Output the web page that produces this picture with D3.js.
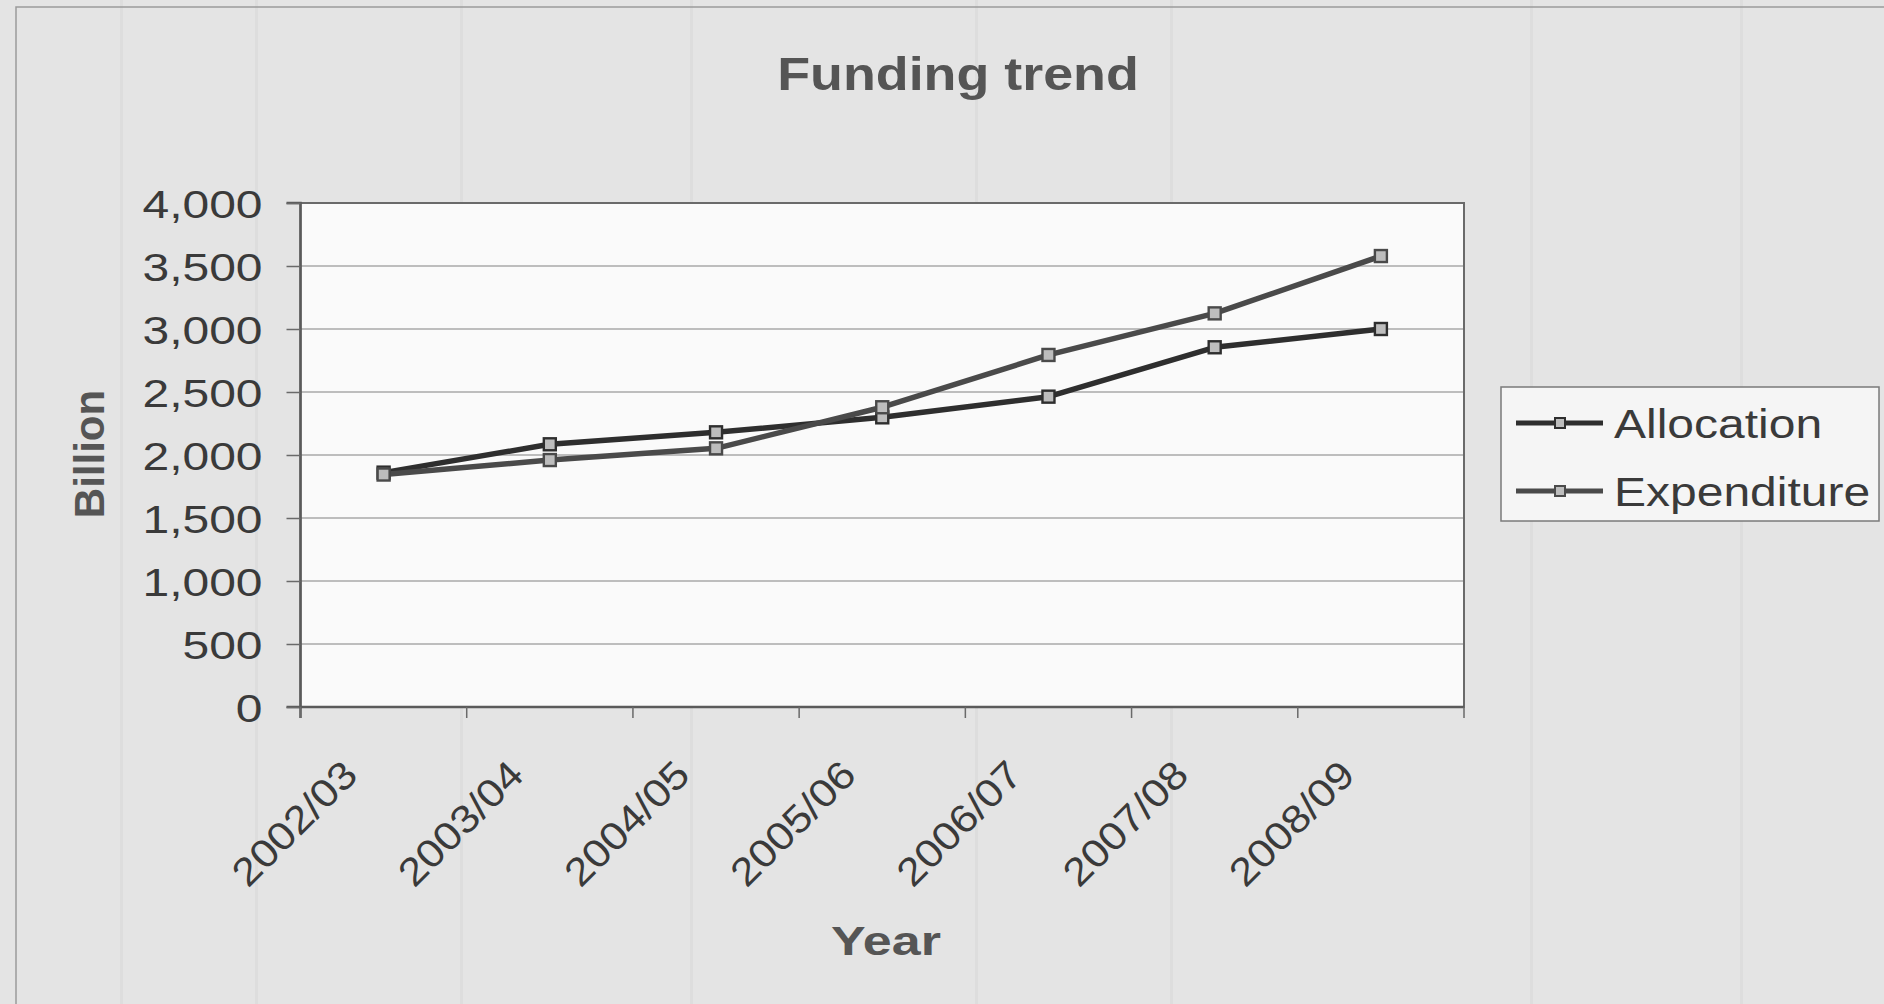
<!DOCTYPE html>
<html>
<head>
<meta charset="utf-8">
<script src="https://cdn.jsdelivr.net/npm/d3@7"></script>
<style>
  html, body { margin: 0; padding: 0; background: #e6e6e6; }
  svg { display: block; }
  text { font-family: "Liberation Sans", Arial, sans-serif; }
</style>
</head>
<body>
<svg id="chart" width="1884" height="1004"></svg>
<script>
// ---- data ----
const categories = ["2002/03", "2003/04", "2004/05", "2005/06", "2006/07", "2007/08", "2008/09"];
const allocation = [1860, 2085, 2180, 2299, 2463, 2855, 3000];
const expenditure = [1845, 1960, 2053, 2379, 2794, 3124, 3579];
const yTicks = [0, 500, 1000, 1500, 2000, 2500, 3000, 3500, 4000];
const seriesNames = ["Allocation", "Expenditure"];
const titleText = "Funding trend";
const xTitle = "Year";
const yTitle = "Billion";

// ---- layout ----
const W = 1884, H = 1004;
const plot = { left: 300.5, right: 1464, top: 203, bottom: 707 };
const colors = ["#2e2e2e", "#4a4a4a"];

const svg = d3.select("#chart");

function stretch(sel, k) {
  sel.each(function () {
    const w = this.getComputedTextLength();
    d3.select(this).attr("textLength", w * k).attr("lengthAdjust", "spacingAndGlyphs");
  });
}

// background
svg.append("rect").attr("width", W).attr("height", H).attr("fill", "#e4e4e4");
// faint paper texture bands
const bands = [120, 255, 460, 690, 975, 1170, 1530, 1740];
svg.append("g").selectAll("rect").data(bands).join("rect")
  .attr("x", d => d).attr("y", 0).attr("width", 3).attr("height", H)
  .attr("fill", "#d8d8d8").attr("opacity", 0.6);
// outer chart border
svg.append("rect").attr("x", 16).attr("y", 7).attr("width", W).attr("height", H)
  .attr("fill", "none").attr("stroke", "#9a9a9a").attr("stroke-width", 1.5);

const x = d3.scaleBand().domain(categories).range([plot.left, plot.right]).paddingInner(0).paddingOuter(0);
const y = d3.scaleLinear().domain([0, 4000]).range([plot.bottom, plot.top]);

// plot area
svg.append("rect")
  .attr("x", plot.left).attr("y", plot.top)
  .attr("width", plot.right - plot.left).attr("height", plot.bottom - plot.top)
  .attr("fill", "#fafafa");

// gridlines
svg.append("g").selectAll("line").data(yTicks.filter(d => d > 0 && d < 4000)).join("line")
  .attr("x1", plot.left).attr("x2", plot.right)
  .attr("y1", d => y(d)).attr("y2", d => y(d))
  .attr("stroke", "#a8a8a8").attr("stroke-width", 1.5);

// plot border
svg.append("rect")
  .attr("x", plot.left).attr("y", plot.top)
  .attr("width", plot.right - plot.left).attr("height", plot.bottom - plot.top)
  .attr("fill", "none").attr("stroke", "#6a6a6a").attr("stroke-width", 2);

// y axis
const yAxis = d3.axisLeft(y).tickValues(yTicks).tickFormat(d3.format(",")).tickSize(14).tickPadding(24);
const gy = svg.append("g").attr("transform", `translate(${plot.left},0)`).call(yAxis);
gy.select(".domain").attr("stroke", "#5a5a5a").attr("stroke-width", 2.5)
  .attr("d", `M-14,${plot.bottom}H0V${plot.top}H-14`);
gy.selectAll(".tick line").attr("stroke", "#6a6a6a").attr("stroke-width", 1.5);
gy.selectAll(".tick text").attr("font-size", 39).attr("fill", "#3a3a3a")
  .attr("font-family", "'Liberation Sans', Arial, sans-serif").attr("dy", "0.36em");
svg.append("line").attr("x1", plot.left).attr("x2", plot.left).attr("y1", plot.bottom).attr("y2", plot.bottom + 11)
  .attr("stroke", "#5a5a5a").attr("stroke-width", 2.5);
stretch(gy.selectAll(".tick text"), 1.23);

// x axis: ticks at category boundaries
const boundaries = categories.map(c => x(c)).concat([x(categories[categories.length - 1]) + x.bandwidth()]);
const gx = svg.append("g");
gx.append("line").attr("x1", plot.left).attr("x2", plot.right).attr("y1", plot.bottom).attr("y2", plot.bottom)
  .attr("stroke", "#5a5a5a").attr("stroke-width", 2.5);
gx.selectAll("line.tk").data(boundaries).join("line").attr("class", "tk")
  .attr("x1", d => d).attr("x2", d => d).attr("y1", plot.bottom).attr("y2", plot.bottom + 11)
  .attr("stroke", "#6a6a6a").attr("stroke-width", 1.5);
const xl = gx.selectAll("text").data(categories).join("text")
  .attr("transform", d => `translate(${x(d) + x.bandwidth() / 2 - 24},${plot.bottom + 70}) rotate(-45)`)
  .attr("text-anchor", "end")
  .attr("font-size", 39).attr("fill", "#3a3a3a")
  .text(d => d);
stretch(xl, 1.12);

// lines
const seriesData = [allocation, expenditure];
const line = d3.line()
  .x((d, i) => x(categories[i]) + x.bandwidth() / 2)
  .y(d => y(d));

seriesData.forEach((vals, si) => {
  svg.append("path").datum(vals)
    .attr("d", line)
    .attr("fill", "none")
    .attr("stroke", colors[si])
    .attr("stroke-width", 5.5)
    .attr("stroke-linejoin", "round");
});
seriesData.forEach((vals, si) => {
  svg.append("g").selectAll("rect").data(vals).join("rect")
    .attr("x", (d, i) => x(categories[i]) + x.bandwidth() / 2 - 6)
    .attr("y", d => y(d) - 6)
    .attr("width", 12).attr("height", 12)
    .attr("fill", "#bdbdbd")
    .attr("stroke", colors[si]).attr("stroke-width", 2.4);
});

// title
const tt = svg.append("text").attr("x", 958).attr("y", 90).attr("text-anchor", "middle")
  .attr("font-size", 46).attr("font-weight", "bold").attr("fill", "#555555").text(titleText);
stretch(tt, 1.17);

// axis titles
const xt = svg.append("text").attr("x", 886).attr("y", 955).attr("text-anchor", "middle")
  .attr("font-size", 40).attr("font-weight", "bold").attr("fill", "#555555").text(xTitle);
stretch(xt, 1.3);
svg.append("text").attr("transform", `translate(104,454) rotate(-90)`).attr("text-anchor", "middle")
  .attr("font-size", 42).attr("font-weight", "bold").attr("fill", "#555555").text(yTitle);

// legend
const leg = svg.append("g");
leg.append("rect").attr("x", 1501).attr("y", 387).attr("width", 378).attr("height", 134)
  .attr("fill", "#f5f5f5").attr("stroke", "#7a7a7a").attr("stroke-width", 1.5);
const legY = [423, 491];
seriesNames.forEach((name, i) => {
  leg.append("line").attr("x1", 1516).attr("x2", 1603).attr("y1", legY[i]).attr("y2", legY[i])
    .attr("stroke", colors[i]).attr("stroke-width", 5);
  leg.append("rect").attr("x", 1555).attr("y", legY[i] - 5).attr("width", 10).attr("height", 10)
    .attr("fill", "#bdbdbd").attr("stroke", colors[i]).attr("stroke-width", 2);
  const t = leg.append("text").attr("x", 1614).attr("y", legY[i] + 15)
    .attr("font-size", 40).attr("fill", "#3a3a3a").text(name);
  stretch(t, 1.2);
});
</script>
</body>
</html>
